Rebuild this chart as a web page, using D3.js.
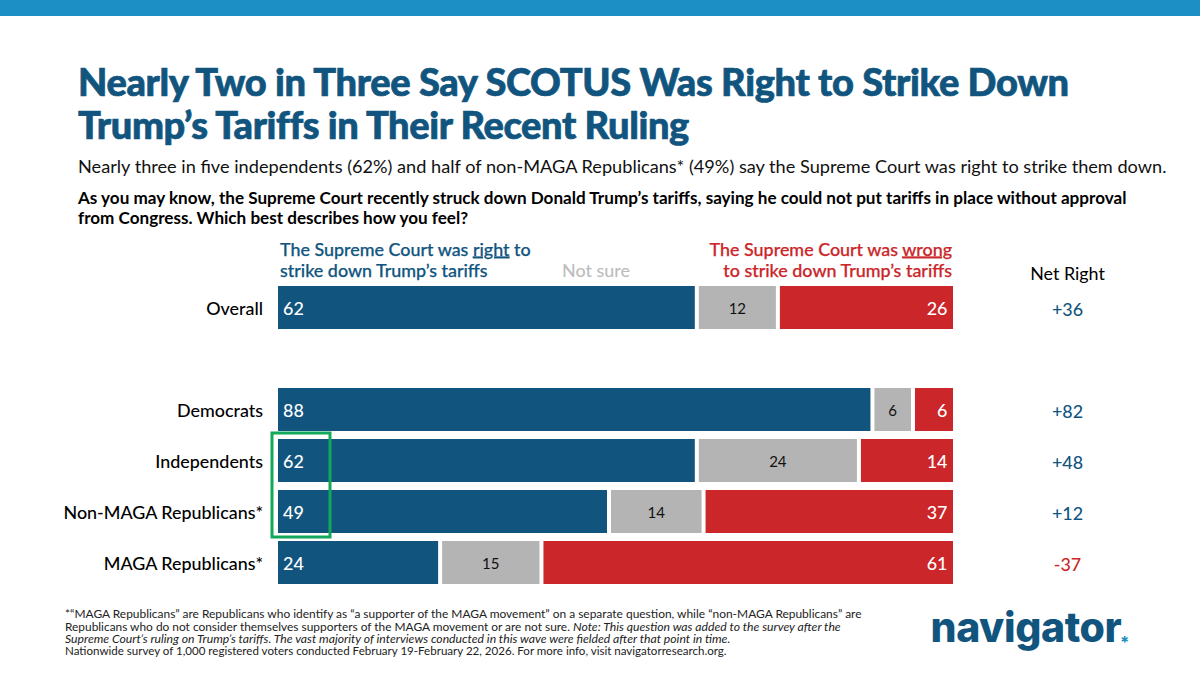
<!DOCTYPE html>
<html>
<head>
<meta charset="utf-8">
<script src="https://cdn.jsdelivr.net/npm/d3@7"></script>
<style>
  html, body { margin: 0; padding: 0; background: #fff; }
  svg { display: block; font-family: Lato, sans-serif; }
</style>
</head>
<body>
<div id="chartContainer"></div>
<script>
// "gap" is the empty row between Overall and the party groups
const categories = ["Overall", "gap", "Democrats", "Independents", "Non-MAGA Republicans*", "MAGA Republicans*"];
const right = [62, null, 88, 62, 49, 24];
const notSure = [12, null, 6, 24, 14, 15];
const wrong = [26, null, 6, 14, 37, 61];
const netRight = ["+36", "", "+82", "+48", "+12", "-37"];

const blue = "#11557f";
const grey = "#b4b4b4";
const red = "#cb2629";

const width = 1200;
const height = 674;

const x = d3.scaleLinear().domain([0, 100]).range([278, 953.5]);
const y = d3.scaleBand()
  .domain(categories)
  .range([286, 584])
  .paddingInner(8 / 51)
  .paddingOuter(0);

const svg = d3.select("#chartContainer").append("svg")
  .attr("width", width)
  .attr("height", height)
  .attr("viewBox", [0, 0, width, height]);

// top stripe
svg.append("rect")
  .attr("width", width)
  .attr("height", 16)
  .attr("fill", "#1c90c4");

function addText(str, tx, ty, size, weight, fill, anchor, extra) {
  return svg.append("text")
    .attr("x", tx)
    .attr("y", ty)
    .attr("font-size", size)
    .attr("font-weight", weight)
    .attr("fill", fill)
    .attr("text-anchor", anchor || "start")
    .attr("letter-spacing", extra || 0)
    .text(str);
}

// title is heavier than Lato Black, so it gets a thin outline too
addText("Nearly Two in Three Say SCOTUS Was Right to Strike Down", 78, 96, 38, 900, blue, "start", -0.35)
  .attr("stroke", blue).attr("stroke-width", 0.7);
addText("Trump\u2019s Tariffs in Their Recent Ruling", 78, 139, 38, 900, blue, "start", -0.4)
  .attr("stroke", blue).attr("stroke-width", 0.7);

addText("Nearly three in five independents (62%) and half of non-MAGA Republicans* (49%) say the Supreme Court was right to strike them down.", 78, 173, 18.17, 400, "#111");

addText("As you may know, the Supreme Court recently struck down Donald Trump\u2019s tariffs, saying he could not put tariffs in place without approval", 78, 204, 17.1, 700, "#000");
addText("from Congress. Which best describes how you feel?", 78, 224, 17.1, 700, "#000");

// column headers
const headSize = 17.9;
const rightHead = addText("The Supreme Court was ", 280, 255.5, headSize, 500, blue).attr("stroke", blue).attr("stroke-width", 0.25);
rightHead.append("tspan").attr("text-decoration", "underline").text("right");
rightHead.append("tspan").text(" to");
addText("strike down Trump\u2019s tariffs", 280, 276.5, headSize, 500, blue).attr("stroke", blue).attr("stroke-width", 0.25);

addText("Not sure", 562, 276.5, headSize, 500, "#bdbdbd");

const wrongHead = addText("The Supreme Court was ", 952, 255.5, headSize, 500, red, "end").attr("stroke", red).attr("stroke-width", 0.25);
wrongHead.append("tspan").attr("text-decoration", "underline").text("wrong");
addText("to strike down Trump\u2019s tariffs", 952, 276.5, headSize, 500, red, "end").attr("stroke", red).attr("stroke-width", 0.25);

addText("Net Right", 1067.5, 280, headSize, 400, "#000", "middle");

// axis on the left carries the row names
const rows = categories.map((c, i) => ({ c, right: right[i], notSure: notSure[i], wrong: wrong[i], net: netRight[i] }))
  .filter(d => d.right !== null);

svg.append("g")
  .attr("transform", `translate(${x(0)},2)`)
  .call(d3.axisLeft(y).tickSize(0).tickPadding(15).tickFormat(d => d === "gap" ? "" : d))
  .call(g => g.select(".domain").remove())
  .selectAll("text")
  .style("font-family", "Lato, sans-serif")
  .style("font-size", "17.9px")
  .style("font-weight", 500)
  .style("fill", "#000");

const row = svg.selectAll("g.row")
  .data(rows)
  .join("g")
  .attr("class", "row")
  .attr("transform", d => `translate(0,${y(d.c)})`);

const gapW = 2;
function segments(d) {
  return [
    { v: d.right, from: 0, fill: blue, text: "#fff", pos: "start" },
    { v: d.notSure, from: d.right, fill: grey, text: "#111", pos: "middle" },
    { v: d.wrong, from: d.right + d.notSure, fill: red, text: "#fff", pos: "end" }
  ];
}

row.selectAll("rect")
  .data(segments)
  .join("rect")
  .attr("x", s => x(s.from) + (s.from ? gapW : 0))
  .attr("width", s => x(s.from + s.v) - x(s.from) - (s.from ? gapW : 0) - (s.from + s.v < 100 ? gapW : 0.5))
  .attr("height", y.bandwidth())
  .attr("fill", s => s.fill);

row.selectAll("text.val")
  .data(segments)
  .join("text")
  .attr("class", "val")
  .attr("x", s => s.pos === "start" ? x(s.from) + 5 : s.pos === "end" ? x(s.from + s.v) - 6 : (x(s.from) + x(s.from + s.v)) / 2)
  .attr("y", y.bandwidth() / 2 + 1)
  .attr("dy", "0.35em")
  .attr("text-anchor", s => s.pos)
  .attr("font-size", s => s.pos === "middle" ? 15 : 17.9)
  .attr("font-weight", s => s.pos === "middle" ? 400 : 500)
  .attr("fill", s => s.text)
  .text(s => s.v);

// net column
row.append("text")
  .attr("x", 1067.5)
  .attr("y", y.bandwidth() / 2 + 2)
  .attr("dy", "0.35em")
  .attr("text-anchor", "middle")
  .attr("font-size", 17.9)
  .attr("font-weight", 500)
  .attr("fill", d => d.net.startsWith("-") ? red : blue)
  .text(d => d.net);

// green highlight box round the 62 and 49
svg.append("rect")
  .attr("x", x(0) - 6)
  .attr("y", y("Independents") - 6)
  .attr("width", 58)
  .attr("height", y("Non-MAGA Republicans*") + y.bandwidth() - y("Independents") + 10)
  .attr("fill", "none")
  .attr("stroke", "#12a85a")
  .attr("stroke-width", 3);

// footnote
addText("*\u201CMAGA Republicans\u201D are Republicans who identify as \u201Ca supporter of the MAGA movement\u201D on a separate question, while \u201Cnon-MAGA Republicans\u201D are", 65, 618, 11.95, 400, "#222");
const foot2 = addText("Republicans who do not consider themselves supporters of the MAGA movement or are not sure. ", 65, 630.5, 11.9, 400, "#222");
foot2.append("tspan").attr("font-style", "italic").attr("font-size", 12.2).text("Note: This question was added to the survey after the");
addText("Supreme Court\u2019s ruling on Trump\u2019s tariffs. The vast majority of interviews conducted in this wave were fielded after that point in time.", 65, 643, 12.2, 400, "#222").attr("font-style", "italic");
addText("Nationwide survey of 1,000 registered voters conducted February 19-February 22, 2026. For more info, visit navigatorresearch.org.", 65, 655, 11.55, 400, "#222");

// logo
addText("navigator", 930.5, 642, 41, 800, blue).style("font-family", "Inter, sans-serif").attr("letter-spacing", -0.4);
addText("*", 1120, 648, 16, 800, "#1c90c4").style("font-family", "Inter, sans-serif");
</script>
</body>
</html>
